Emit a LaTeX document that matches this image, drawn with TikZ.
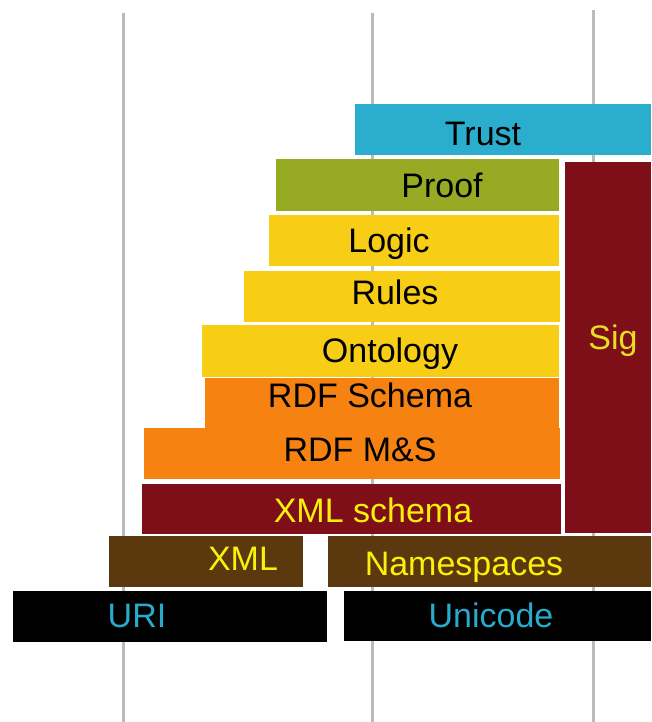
\documentclass[tikz,border=0pt]{standalone}
\usepackage{fontspec}
\setmainfont{Liberation Sans}
\definecolor{cTrust}{RGB}{43,174,206}
\definecolor{cProof}{RGB}{150,170,35}
\definecolor{cYel}{RGB}{247,206,21}
\definecolor{cOrg}{RGB}{246,130,18}
\definecolor{cRed}{RGB}{126,15,24}
\definecolor{cBrown}{RGB}{92,56,14}
\definecolor{cTxtY}{RGB}{250,240,10}
\definecolor{cTxtS}{RGB}{230,222,35}
\definecolor{cTxtC}{RGB}{40,170,205}
\definecolor{cGrid}{RGB}{187,187,187}
\begin{document}
\begin{tikzpicture}[x=1pt,y=-1pt,
  box/.style={inner sep=0pt, outer sep=0pt, anchor=north west, draw=none},
  lbl/.style={font=\fontsize{34}{34}\selectfont, inner sep=0pt, anchor=base},
  gline/.style={draw=cGrid, line width=3pt}]
\useasboundingbox (0,0) rectangle (651,722);
\fill[white] (0,0) rectangle (651,722);
\draw[gline] (123,13) -- (123,722);
\draw[gline] (372,13) -- (372,722);
\draw[gline] (593,10) -- (593,722);
% boxes
\node[box, fill=cTrust, minimum width=296pt, minimum height=51pt] (trust) at (355,104) {};
\node[box, fill=cProof, minimum width=283pt, minimum height=52pt] (proof) at (276,159) {};
\node[box, fill=cRed, minimum width=86pt, minimum height=371pt] (sig) at (565,162) {};
\node[box, fill=cYel, minimum width=290pt, minimum height=51pt] (logic) at (269,215) {};
\node[box, fill=cYel, minimum width=316pt, minimum height=51pt] (rules) at (244,271) {};
\node[box, fill=cYel, minimum width=357pt, minimum height=52pt] (onto) at (202,325) {};
\node[box, fill=cOrg, minimum width=354pt, minimum height=51pt] (rdfs) at (205,378) {};
\node[box, fill=cOrg, minimum width=416pt, minimum height=51pt] (rdfms) at (144,428) {};
\node[box, fill=cRed, minimum width=419pt, minimum height=50pt] (xmls) at (142,484) {};
\node[box, fill=cBrown, minimum width=194pt, minimum height=51pt] (xml) at (109,536) {};
\node[box, fill=cBrown, minimum width=323pt, minimum height=51pt] (ns) at (328,536) {};
\node[box, fill=black, minimum width=314pt, minimum height=51pt] (uri) at (13,591) {};
\node[box, fill=black, minimum width=307pt, minimum height=50pt] (uni) at (344,591) {};
% labels
\node[lbl, text=black] (tTrust) at (483,146) {Trust};
\node[lbl, text=black] (tProof) at (442,197) {Proof};
\node[lbl, text=black] (tLogic) at (389,252) {Logic};
\node[lbl, text=black] (tRules) at (395,304) {Rules};
\node[lbl, text=black] (tOnto) at (390,362) {Ontology};
\node[lbl, text=black] (tRdfs) at (370,407) {RDF Schema};
\node[lbl, text=black] (tRdfms) at (360,461) {RDF M\&S};
\node[lbl, text=cTxtS] (tSig) at (613,349) {Sig};
\node[lbl, text=cTxtY] (tXmls) at (373,522) {XML schema};
\node[lbl, text=cTxtY] (tXml) at (243,570) {XML};
\node[lbl, text=cTxtY] (tNs) at (464,575) {Namespaces};
\node[lbl, text=cTxtC] (tUri) at (137,627) {URI};
\node[lbl, text=cTxtC] (tUni) at (491,627) {Unicode};
\end{tikzpicture}
\end{document}
